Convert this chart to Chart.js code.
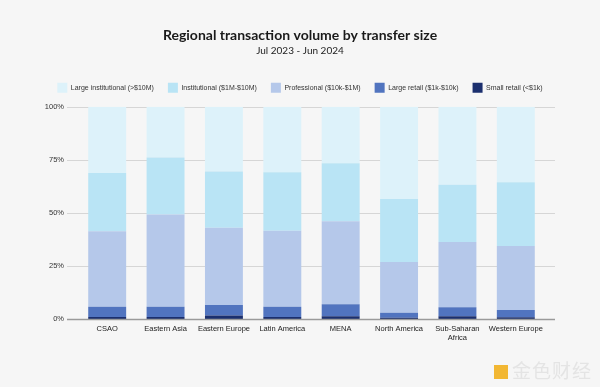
<!DOCTYPE html>
<html>
<head>
<meta charset="utf-8">
<script src="https://cdn.jsdelivr.net/npm/chart.js@4.4.1/dist/chart.umd.min.js"></script>
<style>
html,body{margin:0;padding:0;background:#f6f6f6;}
#wrap{position:relative;width:600px;height:387px;}
canvas{display:block;}
#wm{position:absolute;right:8px;bottom:4px;font-family:"Noto Sans CJK SC";font-size:19px;color:#e4e4e4;letter-spacing:1px;}
#wm span{display:inline-block;width:14px;height:14px;background:#f2b733;margin-right:4px;vertical-align:-1px;}
</style>
</head>
<body>
<div id="wrap"><canvas id="c" width="600" height="387"></canvas><div id="wm"><span></span>金色财经</div></div>
<script>
const categories = ["CSAO","Eastern Asia","Eastern Europe","Latin America","MENA","North America",["Sub-Saharan","Africa"],"Western Europe"];
const smallRetail = [1.0,1.0,1.6,1.0,1.3,0.6,1.3,0.8];
const largeRetail = [4.8,4.8,5.0,4.8,5.6,2.4,4.2,3.4];
const professional = [35.6,43.4,36.4,35.8,39.2,23.9,30.8,30.2];
const institutional = [27.4,26.9,26.5,27.5,27.3,29.7,27.0,30.0];
const largeInstitutional = [31.2,23.9,30.5,30.9,26.6,43.4,36.7,35.6];
const yTicks = [0,25,50,75,100];

const gridPlugin = {
  id:'gridExt',
  beforeInit(chart){
    const orig = chart.legend.fit;
    chart.legend.fit = function(){ this.maxWidth = 600; orig.call(this); this.height += 4; };
  },
  afterLayout(chart){
    chart.boxes.forEach(b=>{
      if(b.position==='top' && !b.axis){ b.left = 0; b.right = 600; b.width = 600; }
    });
  },
  beforeDatasetsDraw(chart){
    const {ctx, chartArea, scales} = chart;
    ctx.save();
    ctx.strokeStyle = '#d6d6d6';
    ctx.lineWidth = 1;
    yTicks.forEach(v=>{
      if(v===0) return;
      const y = Math.round(scales.y.getPixelForValue(v))+0.5;
      ctx.beginPath();
      ctx.moveTo(chartArea.left-11,y);
      ctx.lineTo(chartArea.right+10,y);
      ctx.stroke();
    });
    ctx.restore();
  },
  afterDatasetsDraw(chart){
    const {ctx, chartArea, scales} = chart;
    ctx.save();
    ctx.strokeStyle = '#9a9a9a';
    ctx.lineWidth = 1.5;
    const y = scales.y.getPixelForValue(0)+0.5;
    ctx.beginPath();
    ctx.moveTo(chartArea.left-11,y);
    ctx.lineTo(chartArea.right+10,y);
    ctx.stroke();
    ctx.restore();
  }
};

new Chart(document.getElementById('c'), {
  type:'bar',
  data:{
    labels:categories,
    datasets:[
      {label:'Small retail (<$1k)', data:smallRetail, backgroundColor:'#1b2f6e'},
      {label:'Large retail ($1k-$10k)', data:largeRetail, backgroundColor:'#5174bf'},
      {label:'Professional ($10k-$1M)', data:professional, backgroundColor:'#b5c8ea'},
      {label:'Institutional ($1M-$10M)', data:institutional, backgroundColor:'#b9e4f5'},
      {label:'Large institutional (>$10M)', data:largeInstitutional, backgroundColor:'#ddf2fa'}
    ]
  },
  plugins:[gridPlugin],
  options:{
    responsive:false,
    animation:false,
    devicePixelRatio:1,
    layout:{padding:{left:30,right:55,top:27,bottom:40}},
    datasets:{bar:{barPercentage:0.65,categoryPercentage:1.0,borderWidth:0}},
    plugins:{
      title:{display:true,text:'Regional transaction volume by transfer size',color:'#1a1a1a',font:{family:'Lato',size:14,weight:'bold'},padding:{top:0,bottom:1}},
      subtitle:{display:true,text:'Jul 2023 - Jun 2024',color:'#222',font:{family:'Lato',size:10},padding:{top:0,bottom:12}},
      legend:{
        reverse:true,
        labels:{boxWidth:10,boxHeight:10,padding:14,color:'#333',font:{family:'Liberation Sans',size:7}}
      },
      tooltip:{enabled:false}
    },
    scales:{
      x:{stacked:true,grid:{display:false,drawTicks:false},border:{display:false},
         ticks:{color:'#222',font:{family:'Liberation Sans',size:7.5},padding:5,maxRotation:0,autoSkip:false}},
      y:{stacked:true,min:0,max:100,grid:{display:false,drawTicks:false},border:{display:false},
         afterBuildTicks(s){s.ticks = yTicks.map(v=>({value:v}));},
         afterFit(s){s.width = 48;},
         ticks:{color:'#333',font:{family:'Liberation Sans',size:7.5},padding:14,callback:v=>v+'%'}}
    }
  }
});
</script>
</body>
</html>
